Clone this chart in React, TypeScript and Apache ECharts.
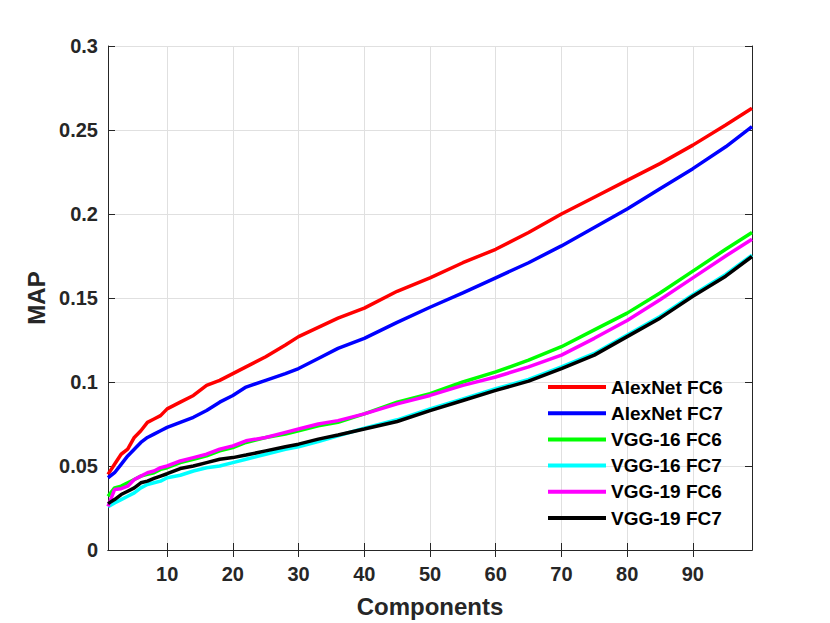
import React, { useEffect, useRef } from "react";
import * as echarts from "echarts";

const components = [1, 2, 3, 4, 5, 6, 7, 8, 9, 10, 12, 14, 16, 18, 20, 22, 25, 28, 30, 33, 36, 40, 45, 50, 55, 60, 65, 70, 75, 80, 85, 90, 95, 99];

const alexFC6 = [0.045, 0.051, 0.057, 0.060, 0.067, 0.071, 0.076, 0.078, 0.080, 0.084, 0.088, 0.092, 0.098, 0.101, 0.105, 0.109, 0.115, 0.122, 0.127, 0.1325, 0.138, 0.144, 0.154, 0.162, 0.171, 0.179, 0.189, 0.200, 0.210, 0.220, 0.230, 0.241, 0.253, 0.263];
const alexFC7 = [0.043, 0.046, 0.051, 0.056, 0.060, 0.064, 0.067, 0.069, 0.071, 0.073, 0.076, 0.079, 0.083, 0.088, 0.092, 0.097, 0.101, 0.105, 0.108, 0.114, 0.120, 0.126, 0.1355, 0.1445, 0.153, 0.162, 0.171, 0.181, 0.192, 0.203, 0.215, 0.227, 0.240, 0.252];
const vgg16FC6 = [0.032, 0.037, 0.038, 0.040, 0.042, 0.044, 0.045, 0.046, 0.048, 0.049, 0.052, 0.054, 0.056, 0.059, 0.061, 0.064, 0.067, 0.069, 0.071, 0.074, 0.076, 0.081, 0.088, 0.093, 0.100, 0.106, 0.113, 0.121, 0.131, 0.141, 0.153, 0.166, 0.179, 0.189];
const vgg16FC7 = [0.0257, 0.028, 0.030, 0.032, 0.034, 0.037, 0.039, 0.040, 0.041, 0.043, 0.0445, 0.047, 0.049, 0.050, 0.052, 0.054, 0.057, 0.060, 0.0615, 0.0645, 0.068, 0.0725, 0.0775, 0.084, 0.090, 0.096, 0.1015, 0.109, 0.117, 0.128, 0.139, 0.152, 0.164, 0.1755];
const vgg19FC6 = [0.026, 0.036, 0.0365, 0.038, 0.042, 0.044, 0.046, 0.047, 0.049, 0.050, 0.053, 0.055, 0.057, 0.060, 0.062, 0.065, 0.067, 0.070, 0.072, 0.075, 0.077, 0.081, 0.087, 0.092, 0.098, 0.103, 0.109, 0.116, 0.126, 0.1366, 0.149, 0.162, 0.175, 0.185];
const vgg19FC7 = [0.0276, 0.030, 0.033, 0.035, 0.037, 0.040, 0.041, 0.0426, 0.044, 0.0454, 0.0485, 0.050, 0.052, 0.054, 0.055, 0.0565, 0.059, 0.0615, 0.063, 0.066, 0.0685, 0.072, 0.0765, 0.083, 0.089, 0.095, 0.1005, 0.108, 0.116, 0.127, 0.138, 0.151, 0.163, 0.1747];

const seriesNames = ["AlexNet FC6", "AlexNet FC7", "VGG-16 FC6", "VGG-16 FC7", "VGG-19 FC6", "VGG-19 FC7"];
const seriesValues = [alexFC6, alexFC7, vgg16FC6, vgg16FC7, vgg19FC6, vgg19FC7];
const seriesColors = ["#ff0000", "#0000ff", "#00ff00", "#00ffff", "#ff00ff", "#000000"];

const xTicks = [10, 20, 30, 40, 50, 60, 70, 80, 90];

const FONT = "'Liberation Sans', Arial, Helvetica, sans-serif";
const AXIS_COLOR = "#262626";

export default function App() {
  const ref = useRef<HTMLDivElement>(null);

  useEffect(() => {
    if (!ref.current) return;
    const chart = echarts.init(ref.current, undefined, { renderer: "svg" });

    const axisLine = { show: true, lineStyle: { color: AXIS_COLOR, width: 1 } };
    const tickStyle = { show: true, inside: true, length: 7, lineStyle: { color: AXIS_COLOR, width: 1 } };

    chart.setOption({
      animation: false,
      backgroundColor: "#ffffff",
      grid: { left: 108, top: 46, width: 644, height: 507, containLabel: false },
      legend: {
        orient: "vertical",
        left: 548,
        top: 377,
        padding: 0,
        itemWidth: 58,
        itemHeight: 4,
        itemGap: 6.2,
        icon: "rect",
        data: seriesNames,
        textStyle: { fontFamily: FONT, fontSize: 19, fontWeight: "bold", color: "#000", lineHeight: 20 },
      },
      xAxis: [
        {
          type: "value",
          min: 1,
          max: 99,
          name: "Components",
          nameLocation: "middle",
          nameGap: 44,
          nameTextStyle: { fontFamily: FONT, fontSize: 24, fontWeight: "bold", color: AXIS_COLOR },
          axisLine,
          axisTick: { ...tickStyle, customValues: xTicks },
          axisLabel: { customValues: xTicks, fontFamily: FONT, fontSize: 20, fontWeight: "bold", color: AXIS_COLOR, margin: 14 },
          splitLine: { show: true, lineStyle: { color: "#e0e0e0", width: 1 } },
        },
        {
          type: "value",
          position: "top",
          min: 1,
          max: 99,
          axisLine,
          axisTick: { ...tickStyle, customValues: xTicks },
          axisLabel: { show: false },
          splitLine: { show: false },
        },
      ],
      yAxis: [
        {
          type: "value",
          min: 0,
          max: 0.3,
          interval: 0.05,
          name: "MAP",
          nameLocation: "middle",
          nameGap: 60,
          nameTextStyle: { fontFamily: FONT, fontSize: 24, fontWeight: "bold", color: AXIS_COLOR },
          axisLine,
          axisTick: tickStyle,
          axisLabel: { fontFamily: FONT, fontSize: 20, fontWeight: "bold", color: AXIS_COLOR, margin: 10 },
          splitLine: { show: true, lineStyle: { color: "#e0e0e0", width: 1 } },
        },
        {
          type: "value",
          position: "right",
          min: 0,
          max: 0.3,
          interval: 0.05,
          axisLine,
          axisTick: tickStyle,
          axisLabel: { show: false },
          splitLine: { show: false },
        },
      ],
      series: seriesNames.map((name, i) => ({
        name,
        type: "line",
        xAxisIndex: 0,
        yAxisIndex: 0,
        showSymbol: false,
        symbol: "none",
        smooth: false,
        color: seriesColors[i],
        lineStyle: { color: seriesColors[i], width: 3.5 },
        itemStyle: { color: seriesColors[i] },
        data: components.map((c, j) => [c, seriesValues[i][j]]),
      })),
    });

    return () => chart.dispose();
  }, []);

  return <div ref={ref} style={{ position: "fixed", left: 0, top: 0, width: 830, height: 623 }} />;
}
